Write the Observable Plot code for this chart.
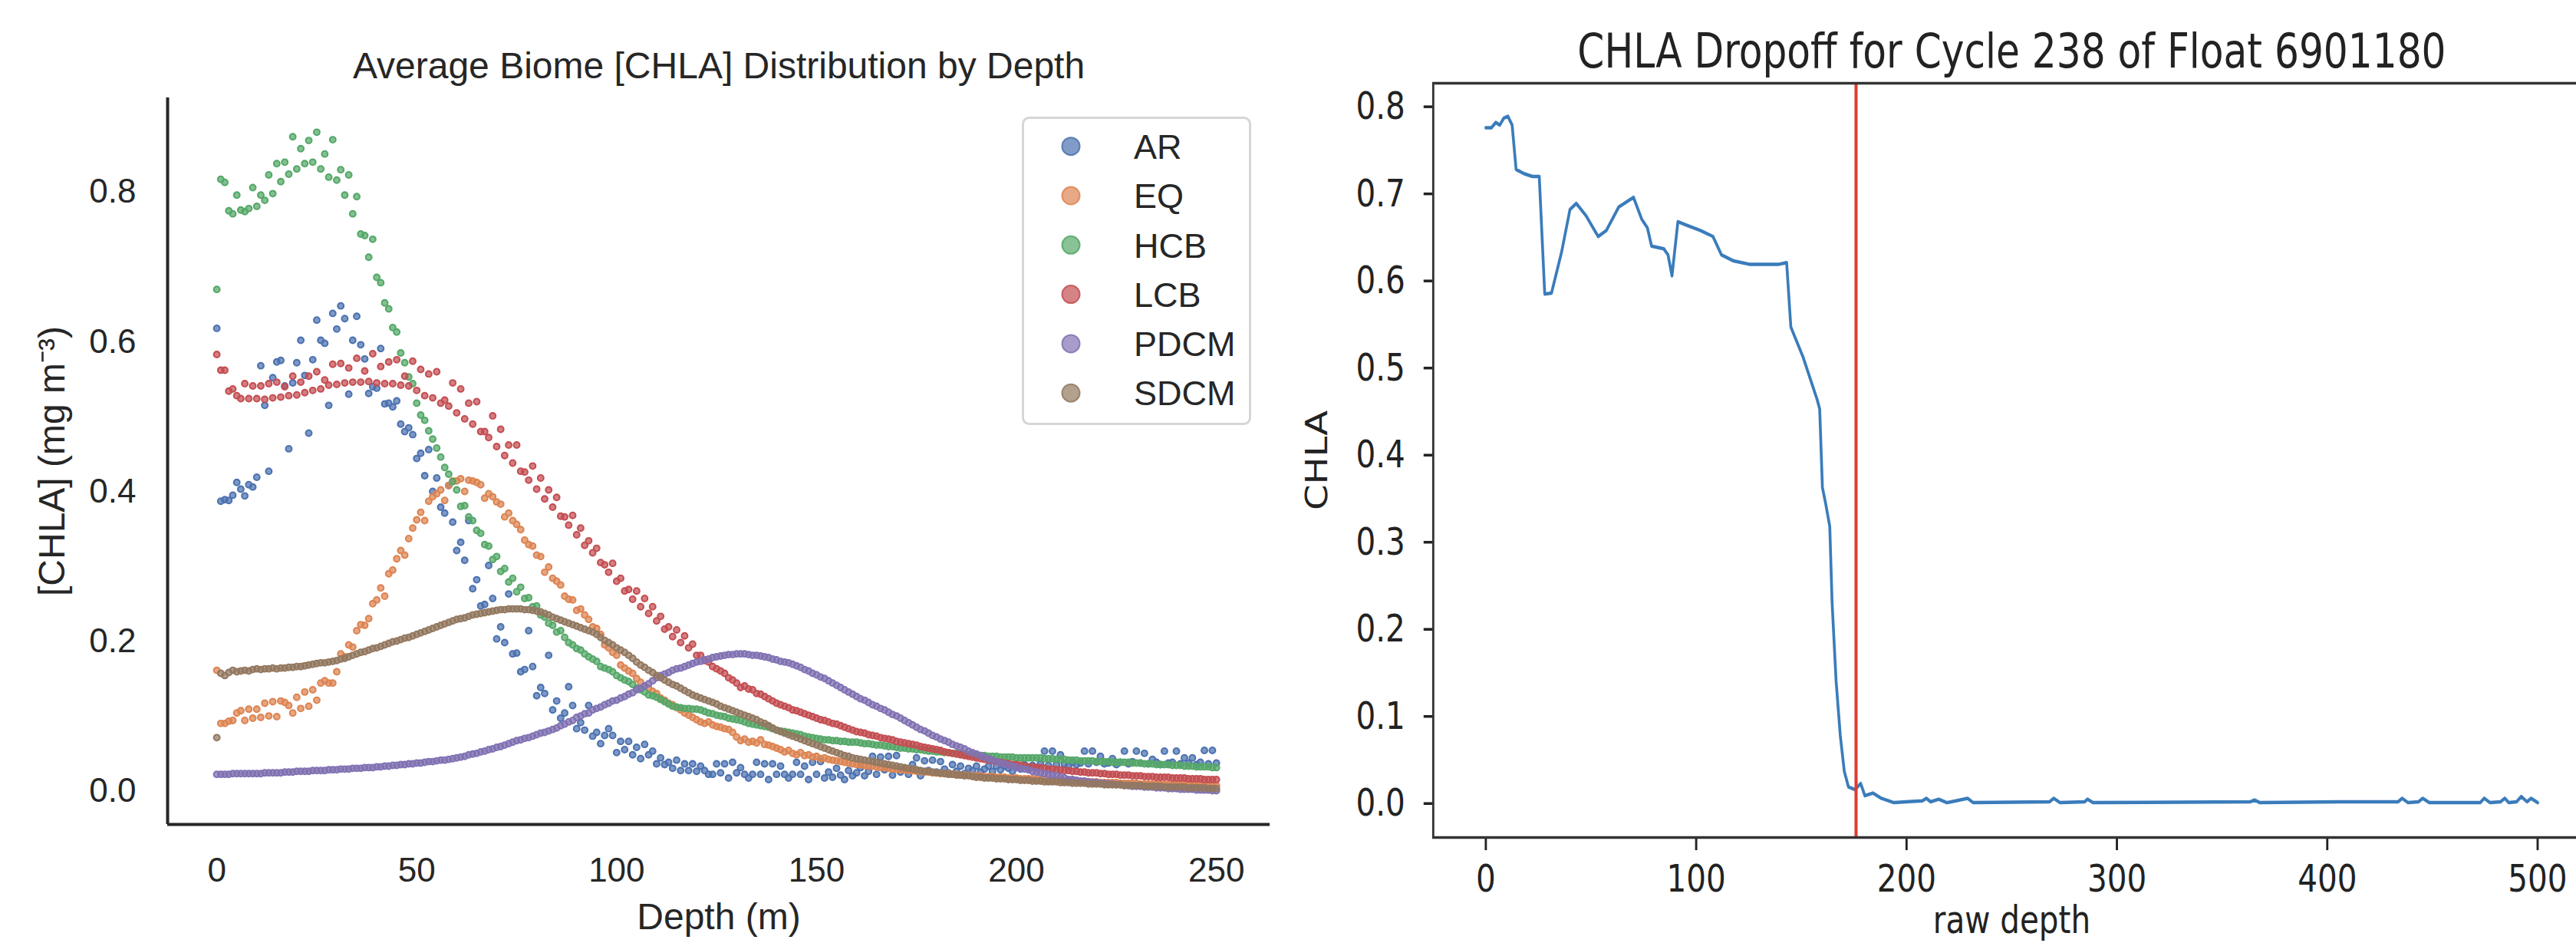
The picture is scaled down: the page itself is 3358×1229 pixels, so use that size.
<!DOCTYPE html>
<html>
<head>
<meta charset="utf-8">
<script src="https://cdn.jsdelivr.net/npm/d3@7"></script>
<script src="https://cdn.jsdelivr.net/npm/@observablehq/plot@0.6"></script>
<style>
  html, body { margin: 0; padding: 0; background: #ffffff; }
  body { width: 3358px; height: 1229px; overflow: hidden; position: relative; }
  #left { position: absolute; left: 0; top: 0; width: 1680px; height: 1229px; }
  #right { position: absolute; left: 1680px; top: 0; width: 2096px; height: 1229px; transform: scaleX(0.81); transform-origin: 0 0; }
  #left svg, #right svg { max-width: none !important; }
  #legend { position: absolute; left: 0; top: 0; pointer-events: none; }
</style>
</head>
<body>
<div id="left"></div>
<div id="right"></div>
<script>
// ---------------- Left panel data ----------------
const biomes = ["AR", "EQ", "HCB", "LCB", "PDCM", "SDCM"];
const biomeColors = ["#4C72B0", "#DD8452", "#55A868", "#C44E52", "#8172B3", "#937860"];
const depthM = d3.range(0, 251); // 1 m depth bins, 0..250 m
const xTicksLeft = [0, 50, 100, 150, 200, 250];
const yTicksLeft = [0, 0.2, 0.4, 0.6, 0.8];

const chlaAR = [
.618,.387,.389,.388,.395,.412,.403,.394,.409,.406,
.419,.568,.515,.427,.552,.573,.575,.541,.457,.545,
.572,.602,.555,.478,.576,.629,.602,.598,.515,.638,
.617,.648,.631,.530,.602,.634,.596,.577,.531,.540,
.538,.591,.517,.518,.513,.521,.490,.480,.485,.476,
.444,.451,.421,.456,.400,.418,.379,.371,.408,.359,
.321,.332,.308,.361,.270,.282,.247,.249,.301,.257,
.203,.219,.198,.263,.183,.184,.159,.162,.214,.166,
.127,.138,.130,.181,.108,.120,.097,.104,.139,.114,
.083,.091,.081,.114,.073,.078,.063,.074,.083,.074,
.051,.066,.055,.066,.048,.058,.043,.062,.048,.053,
.036,.044,.035,.038,.030,.041,.027,.036,.027,.036,
.026,.033,.027,.022,.022,.036,.024,.036,.017,.038,
.024,.031,.022,.017,.022,.038,.022,.036,.015,.036,
.022,.033,.022,.017,.022,.038,.022,.033,.015,.038,
.022,.039,.017,.025,.018,.030,.021,.015,.027,.020,
.024,.031,.020,.026,.046,.022,.045,.028,.046,.021,
.047,.025,.030,.022,.035,.044,.020,.040,.027,.041,
.025,.039,.029,.024,.035,.026,.033,.023,.030,.027,
.033,.025,.029,.033,.026,.033,.028,.033,.030,.026,
.032,.029,.035,.030,.034,.031,.036,.053,.034,.053,
.035,.048,.036,.033,.038,.035,.037,.053,.036,.053,
.038,.046,.036,.037,.043,.035,.038,.053,.036,.039,
.053,.037,.050,.036,.042,.038,.035,.053,.037,.038,
.053,.036,.044,.037,.044,.035,.038,.054,.036,.054,
.037];

const chlaEQ = [
.161,.090,.090,.093,.094,.104,.107,.094,.109,.097,
.109,.098,.117,.100,.119,.099,.120,.118,.114,.104,
.125,.110,.132,.113,.135,.121,.144,.147,.144,.144,
.159,.183,.179,.195,.192,.214,.222,.221,.230,.250,
.255,.271,.260,.290,.295,.310,.321,.315,.337,.351,
.362,.372,.361,.387,.393,.397,.402,.388,.408,.414,
.414,.417,.400,.415,.414,.412,.409,.391,.397,.393,
.386,.383,.366,.371,.361,.356,.349,.335,.329,.327,
.315,.313,.292,.299,.284,.280,.275,.260,.256,.255,
.241,.243,.235,.229,.219,.217,.209,.195,.191,.185,
.181,.168,.164,.160,.157,.150,.145,.140,.137,.133,
.130,.124,.121,.117,.115,.111,.108,.104,.101,.098,
.095,.092,.090,.092,.088,.086,.085,.083,.082,.078,
.072,.067,.069,.065,.066,.064,.068,.062,.061,.059,
.057,.055,.052,.054,.050,.048,.051,.047,.048,.045,
.046,.043,.044,.042,.041,.040,.039,.038,.037,.036,
.035,.035,.034,.033,.033,.032,.031,.031,.030,.029,
.029,.028,.028,.027,.027,.026,.026,.025,.025,.024,
.024,.023,.023,.023,.022,.022,.021,.021,.021,.020,
.020,.020,.019,.019,.019,.018,.018,.018,.017,.017,
.017,.016,.016,.016,.016,.015,.015,.015,.014,.014,
.014,.014,.013,.013,.013,.013,.012,.012,.012,.012,
.012,.011,.011,.011,.011,.011,.010,.010,.010,.010,
.010,.009,.009,.009,.009,.009,.009,.008,.008,.008,
.008,.008,.008,.008,.007,.007,.007,.007,.007,.007,
.007];

const chlaHCB = [
.670,.817,.813,.775,.771,.796,.776,.774,.778,.806,
.781,.796,.789,.823,.798,.838,.814,.840,.824,.874,
.831,.858,.838,.869,.840,.880,.831,.851,.820,.870,
.816,.830,.796,.823,.771,.794,.744,.742,.713,.737,
.686,.679,.652,.644,.619,.613,.585,.572,.553,.544,
.518,.502,.495,.481,.470,.458,.446,.432,.423,.413,
.402,.380,.381,.366,.361,.348,.344,.329,.327,.309,
.313,.293,.297,.279,.284,.266,.272,.257,.258,.246,
.247,.235,.232,.224,.221,.212,.214,.205,.198,.195,
.190,.188,.183,.179,.176,.173,.166,.164,.162,.159,
.154,.151,.148,.146,.142,.137,.135,.132,.128,.127,
.125,.122,.119,.116,.113,.112,.111,.110,.110,.109,
.109,.108,.106,.104,.103,.101,.100,.099,.097,.096,
.095,.094,.092,.090,.089,.088,.087,.086,.085,.083,
.081,.080,.079,.078,.077,.076,.075,.073,.072,.071,
.070,.069,.068,.068,.067,.067,.066,.066,.065,.065,
.065,.064,.063,.063,.062,.061,.061,.060,.059,.059,
.058,.057,.057,.056,.056,.055,.055,.054,.053,.053,
.052,.052,.051,.051,.050,.050,.049,.049,.048,.048,
.047,.047,.047,.046,.046,.046,.045,.045,.045,.045,
.044,.044,.044,.044,.044,.044,.044,.043,.043,.043,
.042,.042,.042,.041,.041,.041,.040,.040,.040,.040,
.039,.039,.039,.039,.038,.038,.038,.038,.038,.037,
.037,.037,.036,.036,.036,.035,.035,.035,.035,.034,
.034,.034,.033,.033,.033,.032,.032,.032,.032,.031,
.031];

const chlaLCB = [
.583,.562,.562,.534,.537,.528,.524,.544,.524,.541,
.524,.541,.523,.544,.525,.546,.526,.540,.528,.554,
.529,.546,.532,.554,.535,.560,.537,.549,.542,.570,
.543,.571,.545,.565,.546,.578,.546,.561,.547,.584,
.545,.567,.544,.573,.544,.576,.542,.554,.541,.574,
.535,.563,.528,.557,.525,.560,.518,.522,.514,.545,
.505,.537,.497,.518,.490,.520,.480,.480,.472,.501,
.460,.483,.448,.462,.438,.462,.427,.426,.415,.434,
.403,.418,.390,.402,.379,.392,.367,.366,.355,.368,
.342,.351,.328,.334,.318,.324,.305,.302,.292,.304,
.280,.284,.267,.269,.256,.267,.246,.257,.237,.246,
.227,.233,.216,.219,.206,.215,.198,.207,.191,.196,
.181,.181,.174,.172,.166,.163,.160,.157,.151,.148,
.144,.138,.140,.136,.135,.130,.129,.126,.123,.120,
.117,.115,.113,.111,.108,.107,.105,.103,.101,.099,
.097,.095,.094,.092,.090,.089,.087,.085,.083,.081,
.079,.078,.077,.075,.074,.073,.071,.070,.069,.068,
.066,.065,.064,.063,.062,.061,.059,.058,.057,.056,
.055,.054,.052,.051,.050,.049,.048,.047,.046,.045,
.044,.043,.042,.041,.040,.039,.038,.037,.036,.035,
.035,.034,.033,.032,.032,.031,.031,.030,.029,.029,
.028,.028,.027,.027,.026,.026,.025,.025,.024,.024,
.024,.023,.023,.022,.022,.022,.021,.021,.021,.020,
.020,.020,.019,.019,.019,.018,.018,.018,.018,.017,
.017,.017,.017,.016,.016,.016,.016,.015,.015,.015,
.015];

const chlaPDCM = [
.022,.022,.022,.022,.023,.023,.023,.023,.023,.023,
.023,.023,.024,.024,.024,.024,.024,.025,.025,.025,
.026,.026,.026,.026,.027,.027,.027,.027,.028,.028,
.028,.029,.029,.029,.030,.030,.030,.031,.031,.031,
.032,.032,.033,.033,.034,.034,.035,.035,.036,.036,
.037,.037,.038,.039,.039,.040,.041,.041,.042,.043,
.044,.045,.046,.048,.049,.050,.052,.053,.055,.056,
.058,.059,.061,.063,.065,.067,.068,.070,.071,.073,
.075,.077,.078,.080,.082,.084,.087,.089,.092,.094,
.098,.100,.103,.104,.108,.110,.112,.115,.117,.120,
.121,.124,.126,.129,.131,.135,.137,.140,.143,.147,
.151,.154,.156,.158,.161,.163,.164,.166,.168,.170,
.172,.173,.175,.176,.178,.179,.180,.181,.182,.182,
.183,.183,.183,.182,.181,.181,.180,.179,.178,.176,
.175,.173,.172,.171,.169,.167,.165,.162,.160,.157,
.155,.152,.150,.147,.144,.141,.138,.135,.132,.129,
.126,.123,.121,.118,.115,.113,.110,.108,.105,.102,
.100,.097,.094,.091,.088,.085,.082,.080,.077,.074,
.072,.069,.067,.065,.062,.060,.058,.056,.053,.051,
.049,.047,.045,.043,.041,.039,.037,.036,.034,.033,
.031,.030,.029,.028,.026,.025,.024,.023,.022,.021,
.020,.018,.017,.015,.015,.014,.013,.013,.012,.011,
.011,.010,.010,.009,.009,.008,.008,.007,.007,.006,
.006,.006,.005,.005,.005,.004,.004,.004,.003,.003,
.003,.002,.002,.002,.002,.001,.001,.001,.001,.000,
.000];

const chlaSDCM = [
.071,.157,.154,.158,.161,.159,.160,.161,.160,.162,
.163,.162,.163,.163,.164,.163,.164,.164,.165,.165,
.166,.166,.167,.168,.169,.170,.171,.171,.172,.173,
.174,.176,.177,.179,.181,.183,.185,.186,.188,.190,
.191,.193,.195,.197,.199,.200,.202,.204,.205,.207,
.209,.211,.213,.215,.217,.219,.221,.223,.225,.227,
.229,.230,.231,.233,.235,.236,.237,.238,.239,.240,
.241,.242,.242,.243,.243,.243,.243,.242,.242,.241,
.240,.239,.237,.235,.232,.230,.228,.226,.224,.222,
.220,.218,.216,.214,.212,.209,.205,.201,.198,.195,
.191,.188,.185,.181,.177,.172,.168,.165,.161,.158,
.154,.151,.148,.145,.142,.140,.137,.134,.131,.128,
.126,.124,.122,.120,.118,.116,.113,.111,.109,.107,
.105,.103,.101,.099,.097,.095,.092,.090,.087,.084,
.081,.079,.077,.075,.073,.071,.069,.067,.065,.063,
.061,.059,.057,.055,.053,.051,.049,.047,.046,.044,
.043,.042,.041,.040,.039,.038,.037,.036,.035,.034,
.033,.032,.031,.030,.029,.028,.027,.026,.026,.025,
.024,.024,.023,.022,.022,.021,.021,.020,.020,.019,
.018,.018,.017,.017,.017,.016,.016,.016,.015,.015,
.015,.014,.014,.014,.013,.013,.013,.012,.012,.012,
.012,.011,.011,.011,.010,.010,.010,.010,.009,.009,
.009,.009,.008,.008,.008,.008,.008,.007,.007,.007,
.007,.007,.006,.006,.006,.006,.006,.005,.005,.005,
.005,.005,.005,.004,.004,.004,.004,.004,.003,.003,
.003];

// ---------------- Right panel data ----------------
const rawDepth = [0,2.7,4.7,6.6,8.6,10.5,12.5,14.4,18.3,22.2,25.4,28,31.2,36,40,43,47.6,53.4,57.3,63.2,
  70.2,74.1,76.8,78.8,84.6,86.6,88.5,91.3,94.4,102,108,112,117.8,125.6,133.4,139,143,145,150.9,157.6,
  158.7,160,161.5,163.5,164.6,166.5,168.5,170.4,172.4,175.5,178.2,180.2,184,188,194,199.7,207.5,209.4,211.4,215.3,
  219.2,229,231.7,268,270,273,284.7,286,288.6,363.5,365.4,368,410,433.7,435.6,438.4,443.4,445.4,448.5,472.7,
  474.6,477.4,482.4,484.4,486.3,490,492.2,495,496.9,500];
const rawChla = [.776,.776,.782,.779,.787,.789,.779,.728,.723,.720,.720,.585,.586,.633,.682,.689,.675,.651,.658,.685,
  .696,.671,.661,.640,.637,.630,.606,.668,.665,.658,.651,.630,.623,.619,.619,.619,.621,.547,.512,.463,
  .453,.363,.345,.318,.231,.141,.078,.037,.019,.016,.023,.009,.012,.006,.001,.002,.003,.006,.002,.005,
  .001,.006,.001,.002,.006,.001,.002,.005,.001,.002,.004,.001,.002,.002,.006,.001,.002,.006,.001,.001,
  .006,.001,.002,.006,.001,.002,.008,.002,.006,.001];
const dropoffDepth = [176];
const xTicksRight = [0, 100, 200, 300, 400, 500];
const yTicksRight = [0, 0.1, 0.2, 0.3, 0.4, 0.5, 0.6, 0.7, 0.8];

// ---------------- Left panel ----------------
const seriesList = [chlaAR, chlaEQ, chlaHCB, chlaLCB, chlaPDCM, chlaSDCM];
const rows = biomes.flatMap((b, i) => seriesList[i].map((v, j) => ({depth: depthM[j], chla: v, biome: b})));
const xDomL = [-12.3, 263.4];
const yDomL = [-0.045, 0.926];
const ink = "#262626";
const fontL = "'Liberation Sans', Arial, sans-serif";

const leftPlot = Plot.plot({
  width: 1680, height: 1229,
  marginLeft: 218, marginRight: 25, marginTop: 127, marginBottom: 155,
  style: {fontFamily: fontL, fontSize: "44px", color: ink, background: "#ffffff", overflow: "visible"},
  x: {domain: xDomL},
  y: {domain: yDomL},
  color: {domain: biomes, range: biomeColors},
  marks: [
    Plot.axisX({ticks: xTicksLeft, tickSize: 0, tickPadding: 43, fontSize: 44, label: null, fill: ink}),
    Plot.axisY({ticks: yTicksLeft, tickSize: 0, tickPadding: 41, fontSize: 44, label: null, fill: ink, tickFormat: ".1f"}),
    Plot.dot(rows, {x: "depth", y: "chla", fill: "biome", stroke: "biome", r: 3.9,
      fillOpacity: 0.72, strokeOpacity: 1, strokeWidth: 2.1}),
    Plot.ruleX([xDomL[0]], {stroke: ink, strokeWidth: 4}),
    Plot.ruleY([yDomL[0]], {x1: xDomL[0], x2: xDomL[1], stroke: ink, strokeWidth: 4}),
    Plot.text(["Average Biome [CHLA] Distribution by Depth"], {text: d => d, frameAnchor: "top", lineAnchor: "middle", textAnchor: "middle", dy: -41, fontSize: 48, fill: ink}),
    Plot.text(["Depth (m)"], {text: d => d, frameAnchor: "bottom", lineAnchor: "middle", textAnchor: "middle", dy: 121, fontSize: 48, fill: ink}),
    Plot.text(["[CHLA] (mg m\u207B\u00B3)"], {text: d => d, frameAnchor: "left", lineAnchor: "middle", textAnchor: "middle", dx: -150, rotate: -90, fontSize: 48, fill: ink})
  ]
});
document.getElementById("left").appendChild(leftPlot);

// legend (built from the biome/color arrays)
const lg = d3.select("body").append("svg").attr("id", "legend")
  .attr("width", 1680).attr("height", 700);
lg.append("rect").attr("x", 1333.5).attr("y", 153.5).attr("width", 296).attr("height", 399)
  .attr("rx", 8).attr("fill", "#ffffff").attr("fill-opacity", 0.8)
  .attr("stroke", "#d6d6d6").attr("stroke-width", 3);
biomes.forEach((b, i) => {
  const cy = 190.7 + i * 64.3;
  lg.append("circle").attr("cx", 1396).attr("cy", cy).attr("r", 11.5)
    .attr("fill", biomeColors[i]).attr("fill-opacity", 0.7)
    .attr("stroke", biomeColors[i]).attr("stroke-opacity", 0.85).attr("stroke-width", 2);
  lg.append("text").attr("x", 1478).attr("y", cy).attr("dy", "0.36em")
    .attr("font-family", fontL).attr("font-size", 45).attr("fill", ink).text(b);
});

// ---------------- Right panel (drawn wide, then squeezed horizontally) ----------------
const fontR = "'DejaVu Sans', sans-serif";
const inkR = "#222222";
const rightPlot = Plot.plot({
  width: 2096, height: 1229,
  marginLeft: 232, marginRight: 2, marginTop: 108, marginBottom: 138,
  style: {fontFamily: fontR, fontSize: "50px", color: inkR, background: "transparent", overflow: "visible"},
  x: {domain: [-25, 525]},
  y: {domain: [-0.039, 0.827]},
  marks: [
    Plot.axisX({ticks: xTicksRight, tickSize: 17, tickPadding: 18, strokeWidth: 3.5, fontSize: 50, label: null, stroke: inkR, fill: inkR}),
    Plot.axisY({ticks: yTicksRight, tickSize: 15, tickPadding: 30, strokeWidth: 3.5, fontSize: 50, label: null, stroke: inkR, fill: inkR, tickFormat: ".1f"}),
    Plot.line(rawDepth.map((d, i) => ({depth: d, chla: rawChla[i]})), {x: "depth", y: "chla", stroke: "#3a7cbb", strokeWidth: 4.5, strokeLinejoin: "round"}),
    Plot.ruleX(dropoffDepth, {stroke: "#e03a30", strokeWidth: 5}),
    Plot.frame({stroke: "#333333", strokeWidth: 3.5}),
    Plot.text(["CHLA Dropoff for Cycle 238 of Float 6901180"], {text: d => d, frameAnchor: "top", lineAnchor: "middle", textAnchor: "middle", dy: -40, fontSize: 62, fill: inkR}),
    Plot.text(["raw depth"], {text: d => d, frameAnchor: "bottom", lineAnchor: "middle", textAnchor: "middle", dy: 108, fontSize: 50, fill: inkR}),
    Plot.text(["CHLA"], {text: d => d, frameAnchor: "left", lineAnchor: "middle", textAnchor: "middle", dx: -186, rotate: -90, fontSize: 48, fill: inkR})
  ]
});
document.getElementById("right").appendChild(rightPlot);
</script>
</body>
</html>
